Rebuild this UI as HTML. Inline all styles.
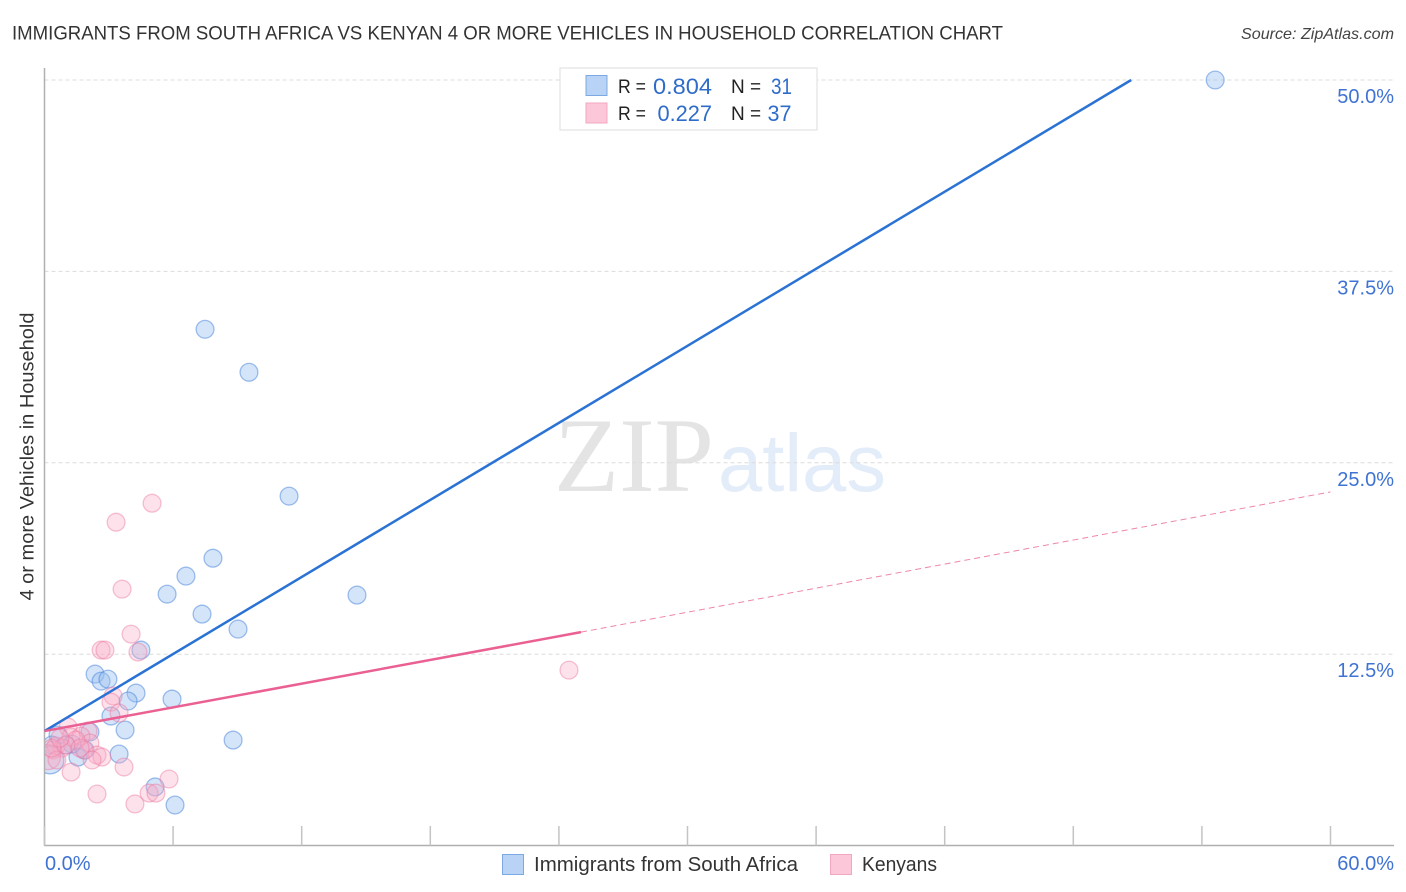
<!DOCTYPE html>
<html lang="en">
<head>
<meta charset="utf-8">
<title>Correlation Chart</title>
<style>
html,body{margin:0;padding:0;background:#fff;width:1406px;height:892px;overflow:hidden}
svg{display:block;font-family:"Liberation Sans",sans-serif}
</style>
</head>
<body>
<svg id="chart" width="1406" height="892" viewBox="0 0 1406 892" xmlns="http://www.w3.org/2000/svg">
<defs><clipPath id="plot-clip"><rect x="45" y="60" width="1349" height="785"/></clipPath></defs>
<text x="12" y="39.5" font-size="19.5" fill="#333" textLength="991" lengthAdjust="spacingAndGlyphs">IMMIGRANTS FROM SOUTH AFRICA VS KENYAN 4 OR MORE VEHICLES IN HOUSEHOLD CORRELATION CHART</text>
<text x="1394" y="39" font-size="16" font-style="italic" fill="#444" text-anchor="end" textLength="153" lengthAdjust="spacingAndGlyphs">Source: ZipAtlas.com</text>
<text x="554" y="491" font-family="'Liberation Serif',serif" font-size="106" fill="#e4e4e4" textLength="160" lengthAdjust="spacingAndGlyphs">ZIP</text>
<text x="718" y="491" font-size="82" fill="#e3ecf9" textLength="168" lengthAdjust="spacingAndGlyphs">atlas</text>
<g id="grid"></g>
<g id="axes"></g>
<g id="points" clip-path="url(#plot-clip)"></g>
<g id="trends"></g>
<text transform="translate(33.5,456.5) rotate(-90)" font-size="19.5" fill="#333" text-anchor="middle" textLength="288" lengthAdjust="spacingAndGlyphs">4 or more Vehicles in Household</text>

<g>
<rect x="560" y="68" width="257" height="62" fill="#fff" stroke="#ddd" stroke-width="1"/>
<rect x="586" y="75.5" width="21" height="20" fill="#b8d3f6" stroke="#7da9e2"/>
<rect x="586" y="103" width="21" height="20" fill="#fcc8d9" stroke="#f2a7c0"/>
<text x="618" y="93" font-size="19" fill="#222" textLength="28" lengthAdjust="spacingAndGlyphs">R =</text>
<text x="653" y="94" font-size="22" fill="#2f6cc9" textLength="59" lengthAdjust="spacingAndGlyphs">0.804</text>
<text x="731" y="93" font-size="19" fill="#222">N =</text>
<text x="771" y="94" font-size="22" fill="#2f6cc9" textLength="21" lengthAdjust="spacingAndGlyphs">31</text>
<text x="618" y="120" font-size="19" fill="#222" textLength="28" lengthAdjust="spacingAndGlyphs">R =</text>
<text x="657.5" y="121" font-size="22" fill="#2f6cc9" textLength="54.5" lengthAdjust="spacingAndGlyphs">0.227</text>
<text x="731" y="120" font-size="19" fill="#222">N =</text>
<text x="767.5" y="121" font-size="22" fill="#2f6cc9" textLength="24" lengthAdjust="spacingAndGlyphs">37</text>
</g>

<g>
<rect x="502.5" y="854.5" width="21" height="20" fill="#b8d3f6" stroke="#7da9e2"/>
<text x="534" y="871" font-size="20" fill="#333" textLength="264" lengthAdjust="spacingAndGlyphs">Immigrants from South Africa</text>
<rect x="830.5" y="854.5" width="21" height="20" fill="#fcc8d9" stroke="#f2a7c0"/>
<text x="862" y="871" font-size="20" fill="#333" textLength="75" lengthAdjust="spacingAndGlyphs">Kenyans</text>
</g>
</svg>
<script>
// Chart data
const yTickValues = [12.5, 25, 37.5, 50];
const yTickLabels = ["12.5%", "25.0%", "37.5%", "50.0%"];
const xTickValues = [0, 6, 12, 18, 24, 30, 36, 42, 48, 54, 60];
const xEndLabels = ["0.0%", "60.0%"];

const southAfricaX = [54.62,7.49,9.54,11.41,7.86,6.60,5.72,14.58,7.35,9.03,4.50,2.36,2.64,2.96,4.27,5.95,3.90,3.10,3.76,8.80,3.48,2.12,5.16,6.09,1.56,1.89,1.28,1.00,0.63,0.35,0.26];
const southAfricaY = [50.0,33.72,30.91,22.82,18.77,17.60,16.42,16.36,15.12,14.14,12.77,11.20,10.74,10.87,9.96,9.57,9.44,8.46,7.55,6.89,5.98,7.42,3.83,2.65,5.78,6.24,6.63,6.57,7.22,6.57,5.59];
const southAfricaWeight = [1,1,1,1,1,1,1,1,1,1,1,1,1,1,1,1,1,1,1,1,1,1,1,1,1,1,1,1,1,1,1.55];

const kenyansX = [5.02,3.34,3.62,4.04,2.64,2.82,4.36,24.47,3.20,3.10,3.48,1.10,2.03,1.70,1.24,0.54,0.82,0.40,0.16,0.58,1.84,2.12,2.45,2.68,2.22,3.71,1.24,5.81,2.45,4.88,5.20,4.22,1.47,1.00,1.66,0.35,0.72];
const kenyansY = [22.36,21.12,16.75,13.81,12.77,12.77,12.64,11.46,9.77,9.37,8.66,7.74,7.48,7.15,7.09,6.50,6.37,6.24,5.78,5.59,6.24,6.70,5.91,5.78,5.59,5.13,4.80,4.35,3.37,3.43,3.43,2.72,6.89,6.57,6.37,6.37,7.02];
const kenyansWeight = [1,1,1,1,1,1,1,1,1,1,1,1,1,1,1,1,1,1,1.4,1,1,1,1,1,1,1,1,1,1,1,1,1,1,1,1,1,1];

const southAfricaTrendX = [0, 50.7];
const southAfricaTrendY = [7.48, 50];
const kenyansTrendX = [0, 25.03];
const kenyansTrendY = [7.48, 13.94];
const kenyansForecastX = [25.03, 60];
const kenyansForecastY = [13.94, 23.1];

// Axis functions
const xScale = v => 44.5 + v * (1286 / 60);
const yScale = v => 845.6 - v * (765.6 / 50);

const NS = 'http://www.w3.org/2000/svg';
function make(tag, parent, attrs) {
  const el = document.createElementNS(NS, tag);
  for (const k in attrs) el.setAttribute(k, attrs[k]);
  parent.appendChild(el);
  return el;
}

const grid = document.getElementById('grid');
const axes = document.getElementById('axes');
const points = document.getElementById('points');
const trends = document.getElementById('trends');

yTickValues.forEach((v, i) => {
  const line = make('line', grid, {x1: 44.5, x2: 1394, y1: yScale(v), y2: yScale(v), stroke: '#dcdcdc', 'stroke-width': 1, 'stroke-dasharray': '4 3'});
  
  
  const label = make('text', axes, {x: 1394, y: yScale(v) + 23, 'font-size': 20, fill: '#3f73d3', 'text-anchor': 'end'});
  label.textContent = yTickLabels[i];
  
  
});

const yAxis = make('line', axes, {x1: 44.5, x2: 44.5, y1: 68, y2: 845.5, stroke: '#b0b0b0', 'stroke-width': 1.5});


const xAxis = make('line', axes, {x1: 44, x2: 1394, y1: 845.5, y2: 845.5, stroke: '#b0b0b0', 'stroke-width': 1.5});



xTickValues.forEach(v => {
  const tick = make('line', axes, {x1: xScale(v), x2: xScale(v), y1: 826, y2: 845.5, stroke: '#c4c4c4', 'stroke-width': 1.5});
  
  
});

const xLabelLeft = make('text', axes, {x: 45, y: 870, 'font-size': 20, fill: '#3f73d3'});
xLabelLeft.textContent = xEndLabels[0];


const xLabelRight = make('text', axes, {x: 1394, y: 870, 'font-size': 20, fill: '#3f73d3', 'text-anchor': 'end'});
xLabelRight.textContent = xEndLabels[1];



southAfricaX.forEach((v, i) => {
  const c = make('circle', points, {cx: xScale(v), cy: yScale(southAfricaY[i]), r: 8.9 * southAfricaWeight[i], fill: 'rgba(150,190,240,0.4)', stroke: 'rgba(70,130,220,0.5)', 'stroke-width': 1.3});
  
  
});
kenyansX.forEach((v, i) => {
  const c = make('circle', points, {cx: xScale(v), cy: yScale(kenyansY[i]), r: 8.9 * kenyansWeight[i], fill: 'rgba(250,170,195,0.34)', stroke: 'rgba(235,120,160,0.45)', 'stroke-width': 1.3});
  
  
});

const blueTrend = make('line', trends, {x1: xScale(southAfricaTrendX[0]), y1: yScale(southAfricaTrendY[0]), x2: xScale(southAfricaTrendX[1]), y2: yScale(southAfricaTrendY[1]), stroke: '#2a72d4', 'stroke-width': 2.5});


const pinkTrend = make('line', trends, {x1: xScale(kenyansTrendX[0]), y1: yScale(kenyansTrendY[0]), x2: xScale(kenyansTrendX[1]), y2: yScale(kenyansTrendY[1]), stroke: '#ea6092', 'stroke-width': 2.5});


const pinkForecast = make('line', trends, {x1: xScale(kenyansForecastX[0]), y1: yScale(kenyansForecastY[0]), x2: xScale(kenyansForecastX[1]), y2: yScale(kenyansForecastY[1]), stroke: '#ee86aa', 'stroke-width': 1, 'stroke-dasharray': '6 4'});


</script>
</body>
</html>
